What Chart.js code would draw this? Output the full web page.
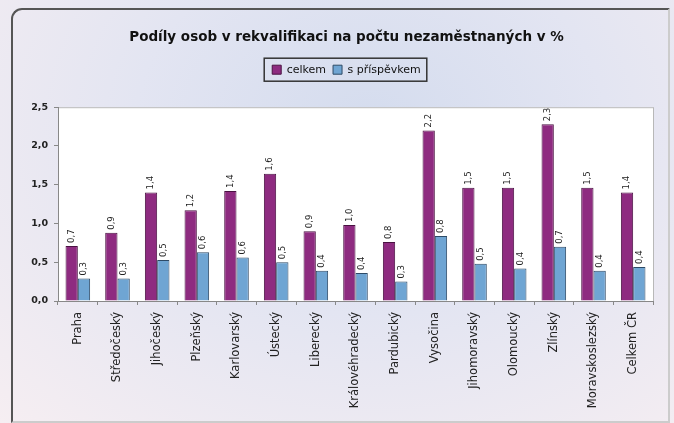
<!DOCTYPE html>
<html>
<head>
<meta charset="utf-8">
<script src="https://cdn.jsdelivr.net/npm/chart.js@4.4.0/dist/chart.umd.min.js"></script>
<style>
  body { margin: 0; background: #fff; }
  #wrap {
    position: relative; width: 674px; height: 423px;
    background: radial-gradient(ellipse at 55% 30%, #d4dcee 0%, #e3e5f2 45%, #f6eef2 100%);
  }
  #frame {
    position: absolute; left: 11px; top: 8px; width: 655px; height: 411px;
    border: 2px solid #555; border-radius: 11px 0 0 0; border-right-color: #ccc; border-bottom-color: #ccc;
    pointer-events: none;
  }
  canvas { position: absolute; left: 0; top: 0; }
</style>
</head>
<body>
<div id="wrap">
  <canvas id="myChart" width="674" height="423"></canvas>
  <div id="frame"></div>
</div>
<script>
// kraje
var regions = ["Praha", "Středočeský", "Jihočeský", "Plzeňský", "Karlovarský", "Ústecký", "Liberecký",
  "Královéhradecký", "Pardubický", "Vysočina", "Jihomoravský", "Olomoucký", "Zlínský", "Moravskoslezský", "Celkem ČR"];
// podíly v %
var celkem = [0.71, 0.88, 1.40, 1.17, 1.42, 1.64, 0.90, 0.98, 0.76, 2.20, 1.46, 1.46, 2.28, 1.46, 1.40];
var sPrispevkem = [0.29, 0.29, 0.53, 0.63, 0.56, 0.50, 0.39, 0.36, 0.25, 0.84, 0.48, 0.42, 0.70, 0.39, 0.44];
var yTicks = [0, 0.5, 1.0, 1.5, 2.0, 2.5];

function czNum(v) {
  return v.toFixed(1).replace(".", ",");
}

// white plot area + border, legend frame
var plotBg = {
  id: "plotBg",
  beforeDraw(chart) {
    const a = chart.chartArea, ctx = chart.ctx;
    ctx.save();
    ctx.fillStyle = "#fff";
    ctx.fillRect(a.left, a.top, a.right - a.left, a.bottom - a.top);
    ctx.strokeStyle = "#b8b8b8";
    ctx.lineWidth = 1;
    ctx.strokeRect(a.left + 0.5, a.top + 0.5, a.right - a.left, a.bottom - a.top);
    ctx.restore();
  },
  afterDraw(chart) {
    const boxes = chart.legend.legendHitBoxes, ctx = chart.ctx;
    if (boxes && boxes.length) {
      const first = boxes[0], last = boxes[boxes.length - 1];
      ctx.save();
      ctx.strokeStyle = "#333";
      ctx.lineWidth = 1.5;
      ctx.strokeRect(first.left - 8, first.top - 6, last.left + last.width - first.left + 14, first.height + 12);
      ctx.restore();
    }
  }
};

// rotated value labels above bars
var valueLabels = {
  id: "valueLabels",
  afterDatasetsDraw(chart) {
    const ctx = chart.ctx;
    ctx.save();
    ctx.font = "8.5px 'DejaVu Sans'";
    ctx.fillStyle = "#222";
    ctx.textAlign = "left";
    ctx.textBaseline = "middle";
    chart.data.datasets.forEach(function (ds, i) {
      chart.getDatasetMeta(i).data.forEach(function (bar, j) {
        ctx.save();
        ctx.translate(bar.x, bar.y - 3);
        ctx.rotate(-Math.PI / 2);
        ctx.fillText(czNum(Math.round(ds.data[j] * 10) / 10), 0, 0);
        ctx.restore();
      });
    });
    ctx.restore();
  }
};

// extra gap under legend, title+legend nudged right
var legendGap = {
  id: "legendGap",
  beforeInit(chart) {
    const orig = chart.legend.fit;
    chart.legend.fit = function () {
      orig.call(this);
      this.height += 22;
    };
  },
  afterLayout(chart) {
    [chart.titleBlock, chart.legend].forEach(function (b) {
      b.left += 20;
      b.right += 20;
    });
  }
};

var data = {
  labels: regions,
  datasets: [
    {
      label: "celkem",
      data: celkem,
      backgroundColor: "#8e2b80",
      borderColor: "#4a1242",
      borderWidth: 1,
      categoryPercentage: 0.62,
      barPercentage: 1.0
    },
    {
      label: "s příspěvkem",
      data: sPrispevkem,
      backgroundColor: "#6fa5d3",
      borderColor: "#2d4a66",
      borderWidth: 1,
      categoryPercentage: 0.62,
      barPercentage: 1.0
    }
  ]
};

var config = {
  type: "bar",
  data: data,
  options: {
    responsive: false,
    animation: false,
    layout: { padding: { left: 0, right: 21, top: 0, bottom: 10 } },
    plugins: {
      title: {
        display: true,
        text: "Podíly osob v rekvalifikaci na počtu nezaměstnaných v %",
        color: "#111",
        font: { family: "DejaVu Sans", size: 13.5, weight: "bold" },
        padding: { top: 29, bottom: 12 }
      },
      legend: {
        display: true,
        labels: {
          boxWidth: 9,
          boxHeight: 9,
          padding: 7,
          color: "#111",
          font: { family: "DejaVu Sans", size: 11 }
        }
      },
      tooltip: { enabled: false }
    },
    scales: {
      x: {
        grid: { drawOnChartArea: false, tickLength: 4, color: "#888", offset: true },
        border: { color: "#888" },
        ticks: {
          color: "#222",
          font: { family: "DejaVu Sans", size: 11.5 },
          maxRotation: 90,
          minRotation: 90,
          autoSkip: false,
          padding: 7
        },
        afterFit(axis) { axis.height = 112; }
      },
      y: {
        min: 0,
        max: 2.5,
        afterBuildTicks(axis) { axis.ticks = yTicks.map(function (v) { return { value: v }; }); },
        grid: { drawOnChartArea: false, tickLength: 4, color: "#888" },
        border: { color: "#888" },
        ticks: {
          color: "#222",
          font: { family: "DejaVu Sans", size: 9.5, weight: "bold" },
          padding: 6,
          callback: function (v) { return czNum(v); }
        },
        afterFit(axis) { axis.width = 58; }
      }
    }
  },
  plugins: [plotBg, valueLabels, legendGap]
};

var myChart = new Chart(document.getElementById("myChart"), config);
</script>
</body>
</html>
